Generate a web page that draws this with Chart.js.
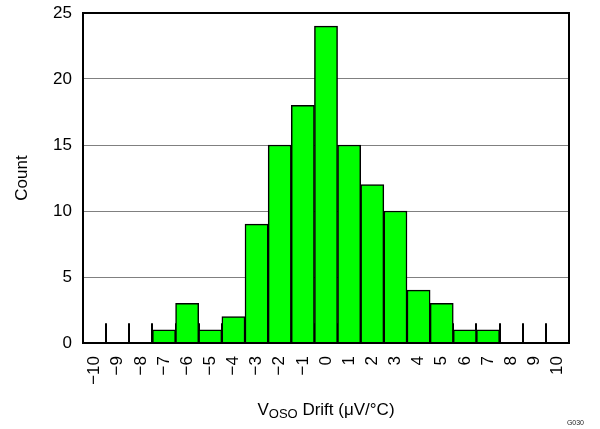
<!DOCTYPE html>
<html>
<head>
<meta charset="utf-8">
<script src="https://cdn.jsdelivr.net/npm/chart.js@4/dist/chart.umd.min.js"></script>
<style>
  html, body { margin: 0; padding: 0; background: #fff; }
  #wrap { width: 600px; height: 429px; position: relative; }
</style>
</head>
<body>
<div id="wrap"><canvas id="chart" width="600" height="429"></canvas></div>
<script>
// histogram bins (uV/C) and counts
var binLabels = ['\u221210', '\u22129', '\u22128', '\u22127', '\u22126', '\u22125', '\u22124', '\u22123', '\u22122', '\u22121',
  '0', '1', '2', '3', '4', '5', '6', '7', '8', '9', '10'];
var counts = [0, 0, 0, 1, 3, 1, 2, 9, 15, 18, 24, 15, 12, 10, 4, 3, 1, 1, 0, 0, 0];
var yTicks = [0, 5, 10, 15, 20, 25];

var FONT = 'Liberation Sans, Arial, sans-serif';

// short inward ticks at the bin edges, then the frame
var frameAndTicks = {
  id: 'frameAndTicks',
  beforeDatasetsDraw: function(chart) {
    var ctx = chart.ctx;
    var x = chart.scales.x, y = chart.scales.y;
    var y0 = y.getPixelForValue(0);
    var y1 = y.getPixelForValue(1.5);
    ctx.save();
    ctx.strokeStyle = '#000';
    ctx.lineWidth = 2;
    for (var i = 0; i < binLabels.length - 1; i++) {
      var px = Math.round(x.getPixelForValue(i + 0.5));
      ctx.beginPath();
      ctx.moveTo(px, y0);
      ctx.lineTo(px, y1);
      ctx.stroke();
    }
    ctx.restore();
  },
  afterDatasetsDraw: function(chart) {
    var ctx = chart.ctx, a = chart.chartArea;
    ctx.save();
    ctx.strokeStyle = '#000';
    ctx.lineWidth = 2;
    ctx.strokeRect(a.left, a.top, a.right - a.left, a.bottom - a.top);
    ctx.restore();
  },
  afterDraw: function(chart) {
    var ctx = chart.ctx, a = chart.chartArea;
    ctx.save();
    ctx.fillStyle = '#000';
    ctx.textBaseline = 'alphabetic';
    // x title with subscript
    var big = '17px ' + FONT, small = '13px ' + FONT;
    var parts = [['V', big, 0], ['OSO', small, 3], [' Drift (\u03bcV/\u00b0C)', big, 0]];
    var total = 0;
    parts.forEach(function(p) { ctx.font = p[1]; total += ctx.measureText(p[0]).width; });
    var cx = (a.left + a.right) / 2;
    var px = cx - total / 2;
    var base = 415;
    parts.forEach(function(p) {
      ctx.font = p[1];
      ctx.fillText(p[0], px, base + p[2]);
      px += ctx.measureText(p[0]).width;
    });
    // figure id
    ctx.font = '7px ' + FONT;
    ctx.fillStyle = '#222';
    ctx.textAlign = 'right';
    ctx.fillText('G030', 584, 425);
    ctx.restore();
  }
};

new Chart(document.getElementById('chart'), {
  type: 'bar',
  data: {
    labels: binLabels,
    datasets: [{
      data: counts,
      backgroundColor: '#00ff00',
      borderColor: '#000',
      borderWidth: 1.5,
      barPercentage: 1,
      categoryPercentage: 1
    }]
  },
  options: {
    responsive: false,
    animation: false,
    devicePixelRatio: 1,
    layout: { padding: { left: 0, right: 31, top: 13, bottom: 0 } },
    plugins: {
      legend: { display: false },
      tooltip: { enabled: false }
    },
    scales: {
      x: {
        grid: { display: false, drawTicks: false },
        border: { display: false },
        ticks: {
          color: '#000',
          font: { family: FONT, size: 17 },
          minRotation: 90,
          maxRotation: 90,
          padding: 13,
          autoSkip: false
        },
        afterFit: function(scale) {
          scale.height = 86;
          scale.paddingLeft = 0;
          scale.paddingRight = 0;
        }
      },
      y: {
        min: 0,
        max: 25,
        afterBuildTicks: function(scale) {
          scale.ticks = yTicks.map(function(v) { return { value: v }; });
        },
        grid: { color: '#808080', lineWidth: 1, drawTicks: false },
        border: { display: false },
        ticks: {
          color: '#000',
          font: { family: FONT, size: 17 },
          padding: 11
        },
        title: {
          display: true,
          text: 'Count',
          color: '#000',
          font: { family: FONT, size: 17 },
          padding: { top: 12, bottom: 0 }
        },
        afterFit: function(scale) {
          scale.width = 83;
          scale.paddingTop = 0;
          scale.paddingBottom = 0;
        }
      }
    }
  },
  plugins: [frameAndTicks]
});
</script>
</body>
</html>
